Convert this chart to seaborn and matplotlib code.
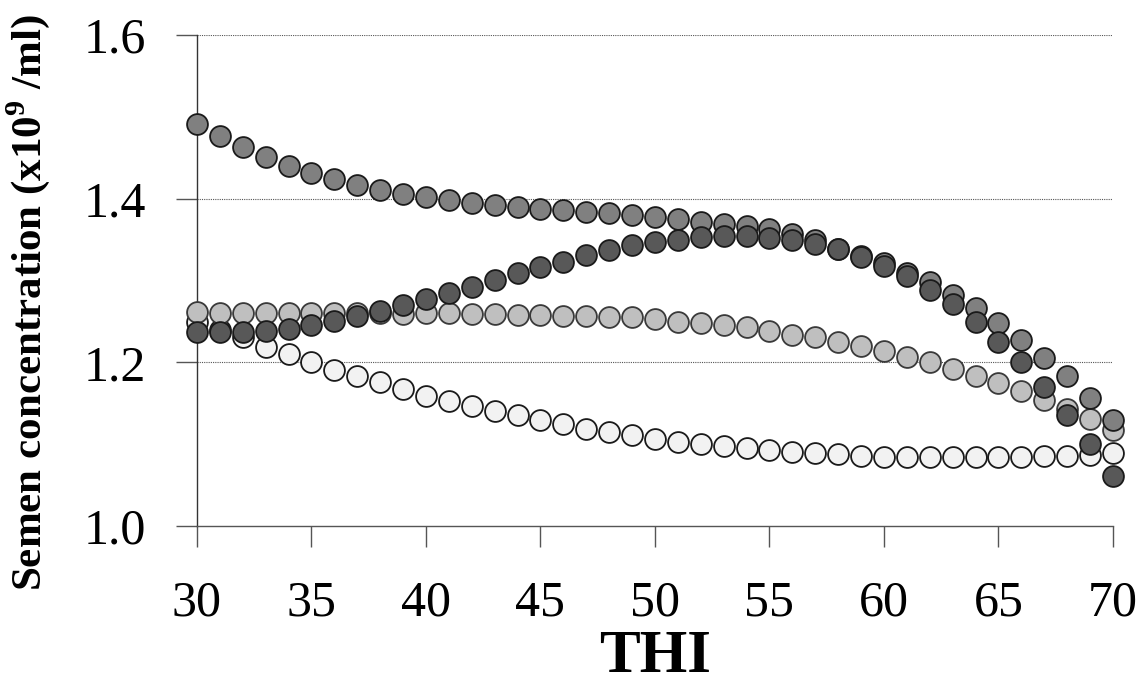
import numpy as np
import pandas as pd
import matplotlib
matplotlib.use("Agg")
import matplotlib.pyplot as plt
import seaborn as sns

thi = list(range(30, 71))

series_a = [1.491, 1.476, 1.463, 1.451, 1.440, 1.431, 1.424, 1.417, 1.411, 1.406,
            1.402, 1.398, 1.395, 1.392, 1.390, 1.388, 1.386, 1.384, 1.382, 1.380,
            1.378, 1.375, 1.372, 1.369, 1.367, 1.363, 1.357, 1.349, 1.339, 1.330,
            1.321, 1.309, 1.298, 1.282, 1.266, 1.248, 1.228, 1.206, 1.183, 1.156,
            1.130]
series_b = [1.237, 1.237, 1.237, 1.239, 1.241, 1.246, 1.251, 1.257, 1.263, 1.270,
            1.277, 1.285, 1.292, 1.301, 1.309, 1.317, 1.323, 1.331, 1.337, 1.343,
            1.347, 1.350, 1.353, 1.354, 1.354, 1.352, 1.350, 1.345, 1.338, 1.329,
            1.318, 1.305, 1.288, 1.271, 1.250, 1.225, 1.200, 1.170, 1.136, 1.100,
            1.061]
series_c = [1.262, 1.261, 1.261, 1.261, 1.260, 1.260, 1.260, 1.260, 1.260, 1.259,
            1.260, 1.260, 1.259, 1.259, 1.258, 1.258, 1.257, 1.257, 1.256, 1.255,
            1.253, 1.250, 1.248, 1.246, 1.243, 1.239, 1.234, 1.231, 1.225, 1.220,
            1.214, 1.207, 1.200, 1.192, 1.184, 1.175, 1.165, 1.154, 1.143, 1.131,
            1.117]
series_d = [1.249, 1.240, 1.231, 1.219, 1.210, 1.200, 1.191, 1.183, 1.176, 1.167,
            1.159, 1.153, 1.147, 1.141, 1.136, 1.130, 1.125, 1.119, 1.115, 1.111,
            1.107, 1.103, 1.100, 1.098, 1.095, 1.093, 1.091, 1.089, 1.088, 1.086,
            1.085, 1.085, 1.084, 1.084, 1.084, 1.085, 1.085, 1.086, 1.086, 1.087,
            1.089]

x_ticks = [30, 35, 40, 45, 50, 55, 60, 65, 70]
y_ticks = [1.0, 1.2, 1.4, 1.6]
y_tick_labels = ["1.0", "1.2", "1.4", "1.6"]

sns.set_theme(style="white")
plt.rcParams["font.family"] = ["Liberation Serif", "DejaVu Serif"]
plt.rcParams["font.serif"] = ["Liberation Serif", "DejaVu Serif"]
plt.rcParams["mathtext.fontset"] = "custom"
plt.rcParams["mathtext.rm"] = "Liberation Serif"
plt.rcParams["mathtext.bf"] = "Liberation Serif:bold"
plt.rcParams["text.color"] = "black"
plt.rcParams["axes.labelcolor"] = "black"
plt.rcParams["xtick.labelcolor"] = "black"
plt.rcParams["ytick.labelcolor"] = "black"

fig = plt.figure(figsize=(11.45, 6.86), dpi=100)
ax = fig.add_axes([0.172, 0.233, 0.8, 0.716])

# drawing order: white, light, medium, dark
styles = [
    (series_d, "#f2f2f2", "#1a1a1a"),
    (series_c, "#bfbfbf", "#3a3a3a"),
    (series_a, "#808080", "#1a1a1a"),
    (series_b, "#585858", "#1a1a1a"),
]
for vals, fc, ec in styles:
    df = pd.DataFrame({"THI": thi, "val": vals})
    sns.scatterplot(data=df, x="THI", y="val", ax=ax, s=225, color=fc,
                    edgecolor=ec, linewidth=1.3, clip_on=False, zorder=3,
                    legend=False)

ax.set_xlim(30, 70)
ax.set_ylim(1.0, 1.6)
ax.set_xticks(x_ticks)
ax.set_yticks(y_ticks)
ax.set_yticklabels(y_tick_labels)
ax.tick_params(axis="both", which="major", labelsize=36, length=15,
               width=1.0, color="#555555", direction="out",
               bottom=True, left=True, labelcolor="black")
ax.tick_params(axis="x", pad=24)
ax.tick_params(axis="y", pad=22)

for y in y_ticks[1:]:
    ax.axhline(y, color="#555555", lw=0.8, ls=(0, (1, 1)), zorder=1)

for side in ["top", "right"]:
    ax.spines[side].set_visible(False)
ax.spines["left"].set_color("#333333")
ax.spines["bottom"].set_color("#555555")
ax.spines["left"].set_linewidth(1.0)
ax.spines["bottom"].set_linewidth(1.0)

ax.set_xlabel("THI", fontsize=44, fontweight="bold", color="black")
ax.xaxis.set_label_coords(0.5, -0.21)
ax.set_ylabel(r"Semen concentration (x10$^{\mathbf{9}}$ /ml)", fontsize=31,
              fontweight="bold", color="black")
ax.yaxis.set_label_coords(-0.158, 0.456)
ax.grid(False)

fig.savefig("out.png", dpi=100)
